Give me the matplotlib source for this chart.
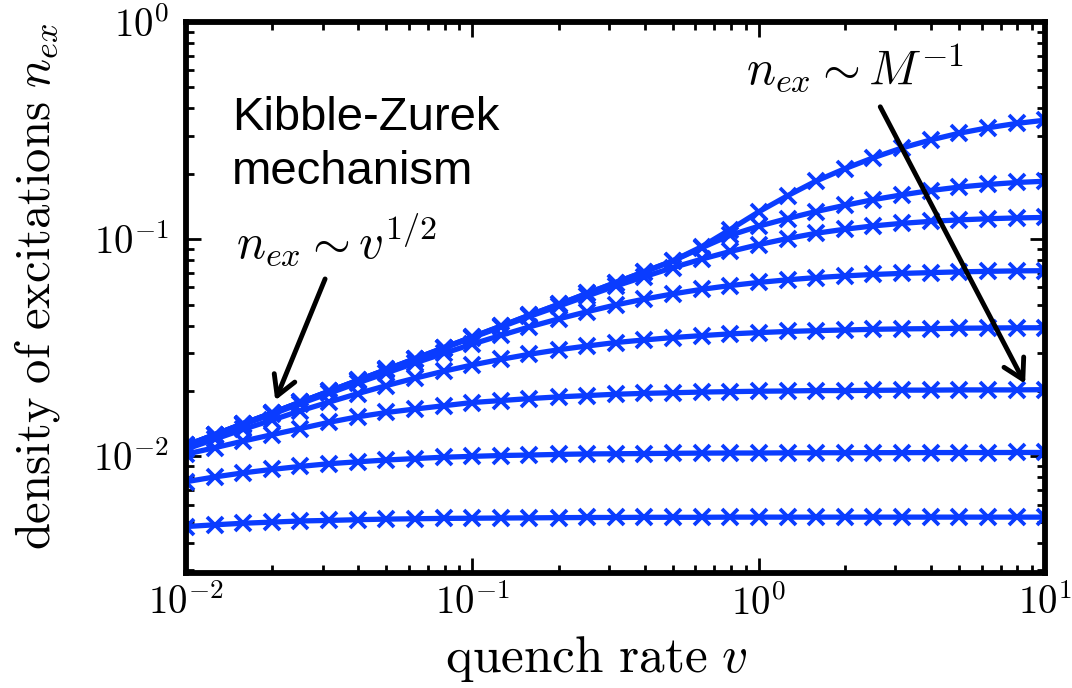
import math
import matplotlib
matplotlib.use("Agg")
import matplotlib.pyplot as plt
from matplotlib.ticker import FuncFormatter, NullFormatter, LogLocator

plt.rcParams['mathtext.fontset'] = 'cm'

# quench rate v (markers every 0.1 decade)
v = [0.01, 0.0126, 0.0158, 0.02, 0.0251, 0.0316, 0.0398, 0.0501, 0.0631, 0.0794,
     0.1, 0.126, 0.158, 0.2, 0.251, 0.316, 0.398, 0.501, 0.631, 0.794,
     1.0, 1.26, 1.58, 2.0, 2.51, 3.16, 3.98, 5.01, 6.31, 7.94, 10.0]

# density of excitations for each system size (top to bottom)
n1 = [0.01122, 0.01259, 0.01413, 0.01585, 0.01778, 0.01995, 0.02239, 0.02512, 0.02818, 0.03162,
      0.03548, 0.03981, 0.04467, 0.05012, 0.05623, 0.0631, 0.07079, 0.07943, 0.09226, 0.1107,
      0.1337, 0.1585, 0.1849, 0.2113, 0.2371, 0.263, 0.2864, 0.3076, 0.3258, 0.3412, 0.3532]
n2 = [0.01122, 0.01259, 0.01413, 0.01585, 0.01778, 0.01995, 0.02239, 0.02512, 0.02818, 0.03162,
      0.03548, 0.03981, 0.04467, 0.05012, 0.05623, 0.0631, 0.07079, 0.07943, 0.0912, 0.1042,
      0.1148, 0.1245, 0.1340, 0.1432, 0.1521, 0.1600, 0.1675, 0.1738, 0.1786, 0.1824, 0.1849]
n3 = [0.01122, 0.01259, 0.01413, 0.01585, 0.01778, 0.01991, 0.02234, 0.02506, 0.02805, 0.03148,
      0.03524, 0.03945, 0.04406, 0.04914, 0.0547, 0.06081, 0.06714, 0.07396, 0.08091, 0.08776,
      0.09441, 0.1007, 0.1064, 0.1112, 0.1151, 0.1183, 0.1208, 0.1227, 0.1242, 0.1253, 0.1259]
n4 = [0.01115, 0.0125, 0.0140, 0.01563, 0.0175, 0.01952, 0.02178, 0.02421, 0.02692, 0.02979,
      0.03289, 0.0361, 0.03945, 0.04295, 0.04634, 0.04977, 0.05297, 0.05598, 0.05875, 0.06115,
      0.06324, 0.06501, 0.06653, 0.06776, 0.06879, 0.06958, 0.07015, 0.07072, 0.07112, 0.07145, 0.07161]
n5 = [0.01079, 0.01199, 0.0133, 0.01469, 0.01622, 0.01778, 0.01945, 0.02118, 0.02291, 0.02466,
      0.02636, 0.02799, 0.02951, 0.03097, 0.03221, 0.03342, 0.03436, 0.03524, 0.03597, 0.03664,
      0.03715, 0.03758, 0.03793, 0.03819, 0.03846, 0.03864, 0.03873, 0.0389, 0.03899, 0.03908, 0.03908]
n6 = [0.01023, 0.01096, 0.01175, 0.01259, 0.01343, 0.01435, 0.01521, 0.01592, 0.01652, 0.01710,
      0.01770, 0.01807, 0.01845, 0.01879, 0.01905, 0.01932, 0.01950, 0.01963, 0.01977, 0.01986,
      0.01995, 0.02000, 0.02009, 0.02009, 0.02014, 0.02018, 0.02018, 0.02023, 0.02023, 0.02023, 0.02028]
n7 = [0.00764, 0.00804, 0.00839, 0.00871, 0.00899, 0.00925, 0.00944, 0.00962, 0.00977, 0.00991,
      0.01000, 0.01009, 0.01014, 0.01021, 0.01026, 0.01028, 0.01030, 0.01033, 0.01035, 0.01036,
      0.01036, 0.01038, 0.01039, 0.01039, 0.01040, 0.01040, 0.01041, 0.01041, 0.01041, 0.01042, 0.01042]
n8 = [0.00475, 0.00484, 0.00492, 0.00498, 0.00504, 0.00507, 0.00511, 0.00514, 0.00516, 0.00518,
      0.00519, 0.00520, 0.00521, 0.00522, 0.00523, 0.00523, 0.00524, 0.00524, 0.00524, 0.00525,
      0.00525, 0.00525, 0.00525, 0.00525, 0.00525, 0.00525, 0.00525, 0.00525, 0.00525, 0.00525, 0.00525]
series = [n1, n2, n3, n4, n5, n6, n7, n8]

xticks = [0.01, 0.1, 1.0, 10.0]
yticks = [0.01, 0.1, 1.0]

blue = '#0a3cff'

fig = plt.figure(figsize=(10.72, 6.88), dpi=100)
ax = fig.add_axes([0.1735, 0.167, 0.8015, 0.801])

for n in series:
    ax.plot(v, n, color=blue, lw=3.8, marker='x', ms=12, mew=2.7)

ax.set_xscale('log')
ax.set_yscale('log')
ax.set_xlim(0.01, 10)
ax.set_ylim(2.9e-3, 1.0)

ax.set_xticks(xticks)
ax.set_yticks(yticks)
fmt = FuncFormatter(lambda val, pos: r'$10^{%d}$' % round(math.log10(val)))
ax.xaxis.set_major_formatter(fmt)
ax.yaxis.set_major_formatter(fmt)
ax.xaxis.set_minor_locator(LogLocator(base=10, subs=range(2, 10)))
ax.yaxis.set_minor_locator(LogLocator(base=10, subs=range(2, 10)))
ax.xaxis.set_minor_formatter(NullFormatter())
ax.yaxis.set_minor_formatter(NullFormatter())

ax.tick_params(which='both', direction='in', top=True, right=True, width=2)
ax.tick_params(which='major', length=11, labelsize=28)
ax.tick_params(which='minor', length=6)
ax.tick_params(axis='x', which='major', pad=8)
ax.tick_params(axis='y', which='major', pad=12)
for s in ax.spines.values():
    s.set_linewidth(4.2)

ax.set_xlabel(r'$\mathrm{quench\ rate}\ v$', fontsize=37)
ax.set_ylabel(r'$\mathrm{density\ of\ excitations}\ n_{ex}$', fontsize=35)
ax.xaxis.set_label_coords(0.478, -0.11)
ax.yaxis.set_label_coords(-0.144, 0.52)

ax.text(0.0535, 0.804, 'Kibble-Zurek', transform=ax.transAxes, fontsize=34,
        family='Liberation Sans', va='baseline', ha='left')
ax.text(0.0535, 0.706, 'mechanism', transform=ax.transAxes, fontsize=34,
        family='Liberation Sans', va='baseline', ha='left')
ax.text(0.058, 0.572, r'$n_{ex}\sim v^{1/2}$', transform=ax.transAxes, fontsize=35,
        va='baseline', ha='left')
ax.text(0.652, 0.886, r'$n_{ex}\sim M^{-1}$', transform=ax.transAxes, fontsize=35,
        va='baseline', ha='left')

arrow = dict(arrowstyle='->,head_length=0.7,head_width=0.4', lw=3.5, color='k',
             shrinkA=0, shrinkB=0, mutation_scale=20)
ax.annotate('', xy=(0.0205, 0.0181), xytext=(0.0306, 0.0656), arrowprops=arrow)
ax.annotate('', xy=(8.51, 0.0216), xytext=(2.655, 0.407), arrowprops=arrow)

fig.savefig('out.png', dpi=100)
